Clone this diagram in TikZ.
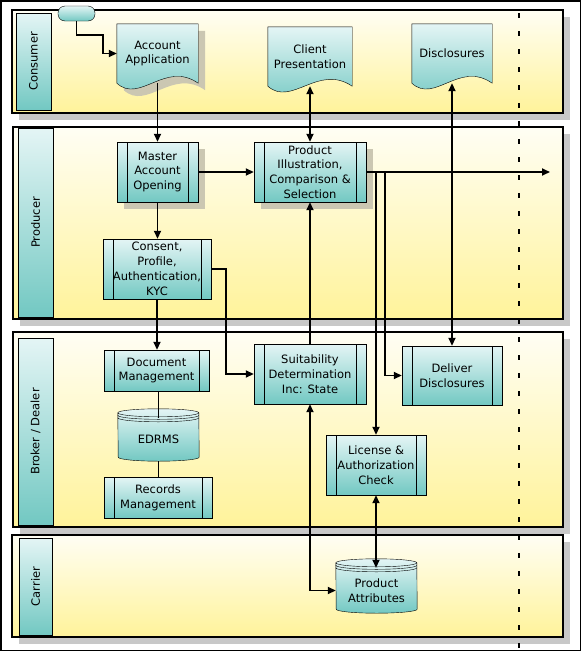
\documentclass[tikz,border=0pt]{standalone}
\usepackage{fontspec}
\setmainfont{DejaVu Sans}
\usepackage{graphicx}
\usetikzlibrary{arrows.meta, calc, positioning, shadows, backgrounds}

\definecolor{lanetop}{HTML}{FFFEF4}
\definecolor{lanebot}{HTML}{FFF39A}
\definecolor{tealtop}{HTML}{E4F5F5}
\definecolor{tealbot}{HTML}{72C8C2}
\definecolor{laneshadow}{HTML}{C8C8C8}
\definecolor{boxshadow}{HTML}{CBC7B2}

\begin{document}
\begin{tikzpicture}[x=1pt, y=1pt, line width=1pt,
    font=\fontsize{11.5}{14.8}\selectfont,
    lane/.style={draw, line width=1.2pt, top color=lanetop, bottom color=lanebot},
    lanelabel/.style={draw, top color=tealtop, bottom color=tealbot, minimum width=35, inner sep=0pt},
    procbox/.style={draw, top color=tealtop, bottom color=tealbot, align=center, inner sep=0pt,
        path picture={
            \draw ([xshift=10pt]path picture bounding box.north west) -- ([xshift=10pt]path picture bounding box.south west);
            \draw ([xshift=-10pt]path picture bounding box.north east) -- ([xshift=-10pt]path picture bounding box.south east);}},
    termbox/.style={draw, rounded corners=7pt, top color=tealtop, bottom color=tealbot},
    docnode/.style={align=center, inner sep=0pt},
    docshape/.style={draw, top color=tealtop, bottom color=tealbot},
    cylnode/.style={align=center, inner sep=0pt, minimum width=81},
    shadowed/.style={drop shadow={shadow xshift=7pt, shadow yshift=-7pt, fill=boxshadow, opacity=1}},
    arr/.style={line width=1.7pt, -{Triangle[length=8pt,width=7pt]}},
    dblarr/.style={line width=1.7pt, {Triangle[length=8pt,width=7pt]}-{Triangle[length=8pt,width=7pt]}}]

        \useasboundingbox (0,0) rectangle (581,-651);
        \draw[line width=1.5pt] (0.75,-0.75) rectangle (580.25,-650.25);

        % Lanes
        \begin{pgfonlayer}{background}
            \fill[laneshadow] (19,-17) rectangle (570,-120);
            \draw[lane] (12,-10) rectangle (563,-113);
            \fill[laneshadow] (20,-134) rectangle (570,-326);
            \draw[lane] (13,-127) rectangle (563,-319);
            \fill[laneshadow] (20,-339) rectangle (570,-534);
            \draw[lane] (13,-332) rectangle (563,-527);
            \fill[laneshadow] (19,-542) rectangle (570,-644);
            \draw[lane] (12,-535) rectangle (563,-637);
        \end{pgfonlayer}

        \node (lblcons) [lanelabel, minimum height=97] at (33.5,-61.5) {\rotatebox{90}{Consumer}};
        \node (lblprod) [lanelabel, minimum height=189] at (35.5,-222.5) {\rotatebox{90}{Producer}};
        \node (lblbrok) [lanelabel, minimum height=187] at (35.5,-431.5) {\rotatebox{90}{Broker / Dealer}};
        \node (lblcarr) [lanelabel, minimum height=97, minimum width=33] at (35.5,-586.5) {\rotatebox{90}{Carrier}};

        % Time line
        \draw[line width=2.4pt, dash pattern=on 5pt off 13pt] (519,-13) -- (519,-651);

        % Consumer
        \node (start) [termbox, minimum width=37, minimum height=15] at (76.5,-13.5) {};
        \node (acct) [docnode, minimum width=81, minimum height=59] at (157.5,-53.5) {Account\\Application};
        \node (client) [docnode, minimum width=84, minimum height=59] at (310,-56.5) {Client\\Presentation};
        \node (discl) [docnode, minimum width=80, minimum height=59] at (452,-53.5) {Disclosures};

        \begin{pgfonlayer}{background}
            \begin{scope}[transform canvas={shift={(7pt,-7pt)}}]
                \fill[boxshadow] (acct.north west) -- (acct.north east) -- (acct.south east)
                    .. controls +(-33,23) and +(23,-21) .. (acct.south west) -- cycle;
            \end{scope}
            \draw[docshape] (acct.north west) -- (acct.north east) -- (acct.south east)
                .. controls +(-33,23) and +(23,-21) .. (acct.south west) -- cycle;
            \draw[docshape] (client.north west) -- (client.north east) -- (client.south east)
                .. controls +(-34,23) and +(24,-21) .. (client.south west) -- cycle;
            \draw[docshape] (discl.north west) -- (discl.north east) -- (discl.south east)
                .. controls +(-33,23) and +(23,-21) .. (discl.south west) -- cycle;
        \end{pgfonlayer}

        % Producer
        \node (master) [procbox, shadowed, minimum width=81, minimum height=60] at (157.5,-172) {Master\\Account\\Opening};
        \node (product) [procbox, shadowed, minimum width=112, minimum height=60] at (310,-172) {Product\\Illustration,\\Comparison \&\\Selection};
        \node (consent) [procbox, minimum width=108, minimum height=60] at (157,-269) {Consent,\\Profile,\\Authentication,\\KYC};

        % Broker / Dealer
        \node (docmgmt) [procbox, minimum width=105, minimum height=41] at (156.5,-370.5) {Document\\Management};
        \node (edrms) [cylnode, minimum height=43] at (158.5,-439.5) {EDRMS};
        \node (records) [procbox, minimum width=108, minimum height=41] at (158,-497.5) {Records\\Management};
        \node (suit) [procbox, minimum width=112, minimum height=60] at (310,-374) {Suitability\\Determination\\Inc: State};
        \node (deliver) [procbox, minimum width=100, minimum height=59] at (452,-375.5) {Deliver\\Disclosures};
        \node (license) [procbox, minimum width=100, minimum height=60] at (376,-465) {License \&\\Authorization\\Check};

        % Carrier
        \node (prodattr) [cylnode, minimum height=45] at (376.5,-590.5) {Product\\Attributes};

        \begin{pgfonlayer}{background}
            \foreach \cyl in {edrms, prodattr} {
                \draw[docshape] ([yshift=5pt]\cyl.north west) arc[start angle=180, end angle=0, x radius=40.5pt, y radius=4pt]
                    -- ([yshift=4pt]\cyl.south east) arc[start angle=0, end angle=-180, x radius=40.5pt, y radius=4pt] -- cycle;
                \foreach \d in {5, 2.5, 0}
                    \draw ([yshift=\d pt]\cyl.north west) arc[start angle=180, end angle=360, x radius=40.5pt, y radius=4pt];
            }
        \end{pgfonlayer}

        % Flow
        \draw[arr] (start.south) -- ++(0,-14) -| ([xshift=-14pt]acct.west) -- (acct.west);
        \draw[arr] (acct.south) -- (master.north);
        \draw[arr] (master.east) -- (product.west);
        \draw[arr] (master.south) -- (master.south |- consent.north);
        \draw[arr] (consent.east) -| ([xshift=-28pt]suit.west) -- (suit.west);
        \draw[arr] (consent.south) -- (consent.south |- docmgmt.north);
        \draw (edrms.north |- docmgmt.south) -- (edrms.north);
        \draw (edrms.south) -- (edrms.south |- records.north);
        \draw[arr] (suit.north) -- (product.south);
        \draw[dblarr] (suit.south) |- (prodattr.west);
        \draw[dblarr] (license.south) -- (license.south |- prodattr.north);
        \draw[dblarr] (client.south) -- (product.north);
        \draw[dblarr] (discl.south) -- (deliver.north);

        \coordinate (out) at (550,-172);
        \draw[arr] (product.east) -- (out);
        \draw[arr] (product.east) -| (license.north);
        \draw[arr] (product.east) -| ([xshift=-17pt]deliver.west) -- (deliver.west);

    \end{tikzpicture}
\end{document}
